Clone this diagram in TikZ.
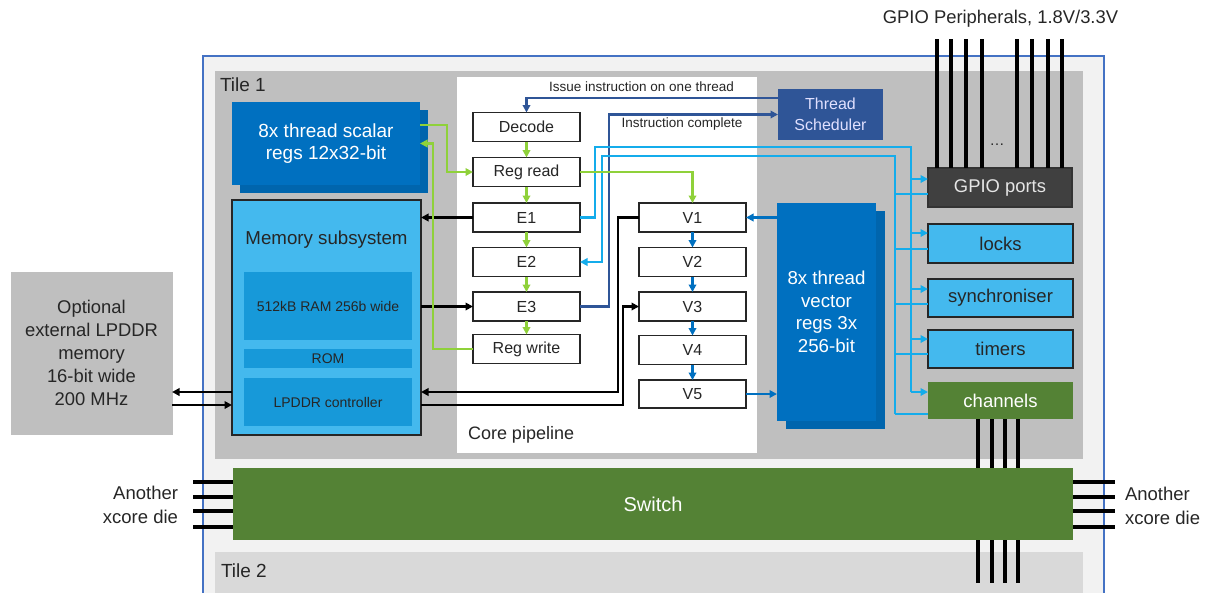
\documentclass[tikz,border=0pt]{standalone}
\usepackage{fontspec}
\setmainfont{Liberation Sans}
\usetikzlibrary{arrows.meta,calc}
\definecolor{chipbg}{HTML}{F2F2F2}
\definecolor{chipline}{HTML}{4472C4}
\definecolor{tileA}{HTML}{BFBFBF}
\definecolor{tileB}{HTML}{D9D9D9}
\definecolor{swgreen}{HTML}{548235}
\definecolor{regblue}{HTML}{0070C0}
\definecolor{membg}{HTML}{44B9EE}
\definecolor{meminner}{HTML}{1799D9}
\definecolor{schedbg}{HTML}{2F5597}
\definecolor{gpiobg}{HTML}{404040}
\definecolor{lime}{HTML}{8FD13A}
\definecolor{cyanline}{HTML}{14ACEB}
\definecolor{txt}{HTML}{262626}
\begin{document}
\begin{tikzpicture}[x=1pt,y=-1pt,
  every node/.style={inner sep=0pt, outer sep=0pt},
  arr/.style={-{Triangle[length=7.5pt,width=7.5pt]}},
  pbox/.style={draw=black!85, line width=1.4pt, fill=white, minimum width=107, minimum height=29, text=txt, font=\fontsize{16}{19}\selectfont},
  darkreg/.style={fill=regblue, text=white, align=center, font=\fontsize{19}{22.5}\selectfont},
  periph/.style={draw=black!85, line width=1.4pt, fill=membg, minimum width=145, minimum height=38, text=txt, font=\fontsize{18.5}{22}\selectfont},
  memin/.style={fill=meminner, minimum width=168, text=txt, font=\fontsize{14}{17}\selectfont},
  bk/.style={draw=black, line width=2.8pt},
  gr/.style={draw=lime, line width=2.8pt},
  cy/.style={draw=cyanline, line width=2.8pt},
  db/.style={draw=schedbg, line width=2.8pt},
  vb/.style={draw=regblue, line width=2.4pt},
  bus/.style={draw=black, line width=4pt},
  lbl/.style={text=txt, font=\fontsize{18.5}{24}\selectfont},
]
\useasboundingbox (0,0) rectangle (1208,592);
\clip (0,0) rectangle (1208,592);
% backgrounds
\fill[chipbg] (203,56) rectangle (1104,600);
\draw[chipline, line width=1.2pt] (203,600) -- (203,56) -- (1104,56) -- (1104,600);
\fill[tileA] (215,71) rectangle (1083,459);
\fill[tileB] (215,552) rectangle (1083,600);
\fill[white] (457,77) rectangle (757,453);
\node[anchor=west, lbl, font=\fontsize{19}{22}\selectfont] (t1) at (220,85) {Tile 1};
\node[anchor=west, lbl, font=\fontsize{19}{22}\selectfont] (t2) at (221,571) {Tile 2};
\node[anchor=west, lbl, font=\fontsize{18}{21}\selectfont] (cp) at (468,435) {Core pipeline};

% switch
\node[fill=swgreen, minimum width=840, minimum height=72, text=white, font=\fontsize{20}{24}\selectfont] (sw) at (653,504) {Switch};

% external memory
\node[fill=tileA, draw=black!25, line width=0.8pt, minimum width=161, minimum height=162, align=center, lbl, font=\fontsize{18.4}{23}\selectfont] (ext) at (91.5,353) {Optional\\external LPDDR\\memory\\16-bit wide\\200 MHz};

% scalar regs
\fill[regblue!90!black] (240,110) rectangle (428,193);
\node[darkreg, minimum width=188, minimum height=83] (sc) at (326,143.5) {8x thread scalar\\regs 12x32-bit};

% memory subsystem
\node[fill=membg, draw=black!85, line width=1.4pt, minimum width=189, minimum height=235] (mem) at (326.5,317.5) {};
\node[lbl, font=\fontsize{18.7}{22}\selectfont] (memt) at (326.5,240) {Memory subsystem};
\node[memin, minimum height=68] (ram) at (328,306) {512kB RAM 256b wide};
\node[memin, minimum height=19] (rom) at (328,358.5) {ROM};
\node[memin, minimum height=48] (lpddr) at (328,402) {LPDDR controller};

% pipeline boxes
\node[pbox] (decode) at (526.5,127) {Decode};
\node[pbox] (regread) at (526.5,172) {Reg read};
\node[pbox] (E1) at (526.5,217.5) {E1};
\node[pbox] (E2) at (526.5,262) {E2};
\node[pbox] (E3) at (526.5,306.5) {E3};
\node[pbox] (regwrite) at (526.5,349) {Reg write};
\node[pbox] (V1) at (692.5,217.5) {V1};
\node[pbox] (V2) at (692.5,262) {V2};
\node[pbox] (V3) at (692.5,306.5) {V3};
\node[pbox] (V4) at (692.5,350) {V4};
\node[pbox, minimum height=28] (V5) at (692.5,394) {V5};

% scheduler
\node[fill=schedbg, minimum width=105, minimum height=51, text=white!88!blue, align=center, font=\fontsize{16}{21}\selectfont] (sched) at (830.5,114.5) {Thread\\Scheduler};

% vector regs
\fill[regblue!90!black] (786,211) rectangle (885,429);
\node[darkreg, minimum width=99, minimum height=218, font=\fontsize{18.7}{22.5}\selectfont] (vec) at (826.5,312) {8x thread\\vector\\regs 3x\\256-bit};

% peripherals
\node[fill=gpiobg, draw=black!80, line width=1.2pt, minimum width=144, minimum height=39, text=white!90!black, font=\fontsize{18.4}{22}\selectfont] (gpio) at (1000,187.5) {GPIO ports};
\node[periph, minimum height=39] (locks) at (1000.5,243.5) {locks};
\node[periph] (sync) at (1000.5,298) {synchroniser};
\node[periph] (timers) at (1000.5,349) {timers};
\node[fill=swgreen, minimum width=145, minimum height=37, text=white, font=\fontsize{18.5}{22}\selectfont] (chan) at (1000.5,400.5) {channels};

% texts
\node[text=txt, font=\fontsize{13.5}{16}\selectfont] (iss) at (641.5,87) {Issue instruction on one thread};
\node[text=txt, font=\fontsize{13.5}{16}\selectfont] (ic) at (682,124) {Instruction complete};
\node[lbl, font=\fontsize{18.4}{22}\selectfont] (gt) at (1000.5,19) {GPIO Peripherals, 1.8V/3.3V};
\node[text=txt, font=\fontsize{15}{18}\selectfont] (dots) at (997,145) {…};
\node[lbl, anchor=east, align=right] (anl) at (178,505) {Another\\xcore die};
\node[lbl, anchor=west, align=left] (anr) at (1125,506) {Another\\xcore die};

% buses
\foreach \x in {937,951,966,982,1017,1032,1048,1062} \draw[bus] (\x,39) -- (\x,168);
\foreach \x in {978,992,1005,1018} {\draw[bus] (\x,419) -- (\x,468); \draw[bus] (\x,540) -- (\x,583);}
\foreach \y in {482,497,511,527} {\draw[bus] (193,\y) -- (233,\y); \draw[bus] (1073,\y) -- (1115,\y);}

% black connectors
\coordinate (mA) at (421,392);
\coordinate (mB) at (421,405);
\draw[bk,arr] (E1.west) -- (E1.west -| mem.east);
\draw[bk,arr] (E3.west -| mem.east) -- (E3.west);
\draw[bk,arr] (V1.west) -- ++(-21,0) |- (mA);
\draw[bk,arr] (mB) -| ($(V3.west)+(-16,0)$) -- (V3.west);
\draw[bk,arr] (mem.west |- mA) -- (ext.east |- mA);
\draw[bk,arr] (ext.east |- mB) -- (mem.west |- mB);

% dark blue scheduler connectors
\coordinate (issY) at (0,98);
\draw[db,arr] (sched.west |- issY) -| (decode.north);
\draw[db,arr] (E3.east) -- ++(29,0) |- (sched.west);

% light blue connectors
\draw[cy] (E1.east) -- ++(15,0) |- (911,147) -- (911,392);
\foreach \b/\a/\r in {gpio/-8.5/6.5, locks/-10.5/5.5, sync/-9/6, timers/-10/5, chan/-8.5/13.5} {
  \draw[cy,arr] ($(\b.west)+(-17,\a)$) -- ($(\b.west)+(0,\a)$);
  \draw[cy] ($(\b.west)+(0,\r)$) -- ($(\b.west)+(-33,\r)$);
}
\draw[cy,arr] (895,414) -- (895,156) -- (602,156) |- (E2.east);

% vector connectors
\foreach \a/\b in {V1/V2, V2/V3, V3/V4, V4/V5} \draw[vb,arr] (\a) -- (\b);
\draw[vb,arr] (vec.west |- V1.east) -- (V1.east);
\draw[vb,arr] (V5.east) -- (vec.west |- V5.east);

% green connectors
\foreach \a/\b in {decode/regread, regread/E1, E1/E2, E2/E3, E3/regwrite} \draw[gr,arr] (\a) -- (\b);
\draw[gr,arr] ($(sc.east)+(0,-18.5)$) -- ++(27,0) |- (regread.west);
\draw[gr,arr] (regwrite.west) -- ++(-40,0) |- (sc.east);
\draw[gr,arr] (regread.east) -| (V1.north);
\end{tikzpicture}
\end{document}
